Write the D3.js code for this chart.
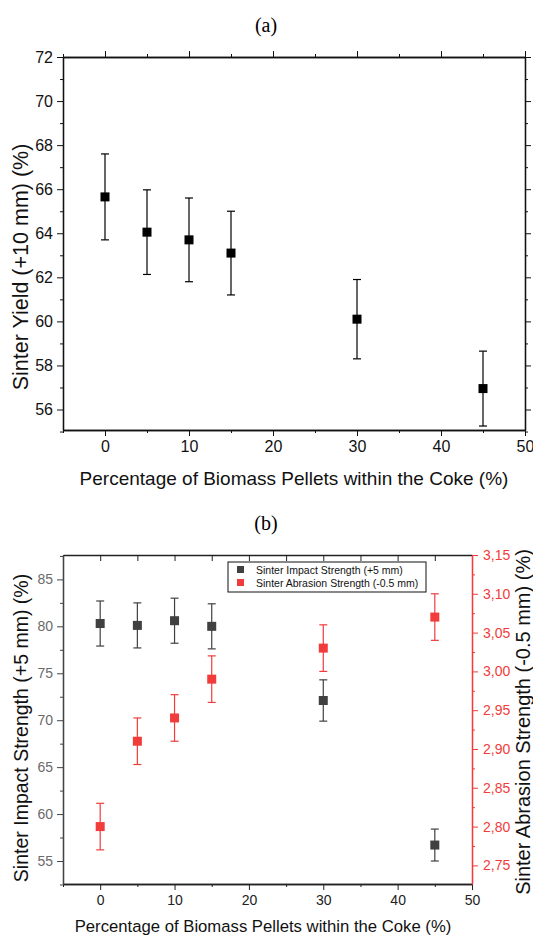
<!DOCTYPE html>
<html>
<head>
<meta charset="utf-8">
<script src="https://cdn.jsdelivr.net/npm/d3@7"></script>
<style>
  body { margin: 0; background: #fff; }
  svg { display: block; font-family: "Liberation Sans", Arial, sans-serif; }
  .domain { stroke-width: 1.3px; }
</style>
</head>
<body>
<div id="chart"></div>
<script>
// shared x values (% biomass pellets in coke)
var biomass = [0, 5, 10, 15, 30, 45];

// (a) sinter yield
var yieldVals = [65.65, 64.05, 63.7, 63.1, 60.1, 56.95];
var yieldErr  = [1.95, 1.92, 1.9, 1.9, 1.8, 1.7];

// (b) impact strength (+5 mm) and abrasion strength (-0.5 mm)
var impactVals = [80.3, 80.1, 80.6, 80.0, 72.1, 56.7];
var impactErr  = [2.4, 2.4, 2.4, 2.4, 2.2, 1.7];
var abrasionVals = [2.80, 2.91, 2.94, 2.99, 3.03, 3.07];
var abrasionErr  = [0.03, 0.03, 0.03, 0.03, 0.03, 0.03];

var xTicks = [0, 10, 20, 30, 40, 50];
var xMinor = [-5, 5, 15, 25, 35, 45];
var yieldTicks = [56, 58, 60, 62, 64, 66, 68, 70, 72];
var yieldMinor = [55, 57, 59, 61, 63, 65, 67, 69, 71];
var impactTicks = [55, 60, 65, 70, 75, 80, 85];
var impactMinor = [52.5, 57.5, 62.5, 67.5, 72.5, 77.5, 82.5, 87.5];
var abrasionTicks = [2.75, 2.80, 2.85, 2.90, 2.95, 3.00, 3.05, 3.10, 3.15];
var abrasionMinor = [2.775, 2.825, 2.875, 2.925, 2.975, 3.025, 3.075, 3.125];

var xLabel = "Percentage of Biomass Pellets within the Coke (%)";
var black = "#404040", red = "#f23c3c";

var svg = d3.select("#chart").append("svg").attr("width", 533).attr("height", 937);

function styleAxis(g, color, size, textColor) {
  g.selectAll(".domain").attr("stroke", color);
  g.selectAll(".tick line").attr("stroke", color);
  g.selectAll(".tick text").attr("fill", textColor || color).style("font-size", size + "px")
    .style("font-family", "Liberation Sans, Arial, sans-serif");
  return g;
}

function errorBars(g, xs, ys, errs, x, y, color) {
  var d = xs.map(function(v, i) { return {x: v, y: ys[i], e: errs[i]}; });
  var eb = g.append("g").selectAll("g").data(d).enter().append("g");
  eb.append("line")
    .attr("x1", function(d) { return x(d.x); }).attr("x2", function(d) { return x(d.x); })
    .attr("y1", function(d) { return y(d.y - d.e); }).attr("y2", function(d) { return y(d.y + d.e); })
    .attr("stroke", color).attr("stroke-width", 1.2);
  [-1, 1].forEach(function(s) {
    eb.append("line")
      .attr("x1", function(d) { return x(d.x) - 4; }).attr("x2", function(d) { return x(d.x) + 4; })
      .attr("y1", function(d) { return y(d.y + s * d.e); }).attr("y2", function(d) { return y(d.y + s * d.e); })
      .attr("stroke", color).attr("stroke-width", 1.2);
  });
  eb.append("rect")
    .attr("x", function(d) { return x(d.x) - 4.5; })
    .attr("y", function(d) { return y(d.y) - 4.5; })
    .attr("width", 9).attr("height", 9)
    .attr("fill", color);
}

// ---------- panel (a) ----------
var ax = d3.scaleLinear().domain([-5, 50]).range([63, 525]);
var ay = d3.scaleLinear().domain([55.07, 72]).range([430, 57]);
var pa = svg.append("g");

pa.append("text").attr("x", 266).attr("y", 32).attr("text-anchor", "middle")
  .style("font-family", "Liberation Serif, Times New Roman, serif").style("font-size", "20px")
  .text("(a)");

styleAxis(pa.append("g").attr("transform", "translate(0,430)")
  .call(d3.axisBottom(ax).tickValues(xTicks).tickSize(6).tickPadding(5).tickSizeOuter(0)), "#111", 16);
styleAxis(pa.append("g").attr("transform", "translate(0,430)")
  .call(d3.axisBottom(ax).tickValues(xMinor).tickSize(3).tickFormat("").tickSizeOuter(0)), "#111", 16);
styleAxis(pa.append("g").attr("transform", "translate(0,57)")
  .call(d3.axisTop(ax).tickValues(xTicks).tickSize(6).tickFormat("").tickSizeOuter(0)), "#111", 16);
styleAxis(pa.append("g").attr("transform", "translate(0,57)")
  .call(d3.axisTop(ax).tickValues(xMinor).tickSize(3).tickFormat("").tickSizeOuter(0)), "#111", 16);
styleAxis(pa.append("g").attr("transform", "translate(63,0)")
  .call(d3.axisLeft(ay).tickValues(yieldTicks).tickSize(6).tickPadding(4).tickSizeOuter(0)), "#111", 16);
styleAxis(pa.append("g").attr("transform", "translate(63,0)")
  .call(d3.axisLeft(ay).tickValues(yieldMinor).tickSize(3).tickFormat("").tickSizeOuter(0)), "#111", 16);
styleAxis(pa.append("g").attr("transform", "translate(525,0)")
  .call(d3.axisRight(ay).tickValues(yieldTicks).tickSize(6).tickFormat("").tickSizeOuter(0)), "#111", 16);
styleAxis(pa.append("g").attr("transform", "translate(525,0)")
  .call(d3.axisRight(ay).tickValues(yieldMinor).tickSize(3).tickFormat("").tickSizeOuter(0)), "#111", 16);

errorBars(pa, biomass, yieldVals, yieldErr, ax, ay, "#000");

pa.append("text").attr("x", 294).attr("y", 485).attr("text-anchor", "middle")
  .style("font-size", "19px").attr("fill", "#111").text(xLabel);
pa.append("text").attr("transform", "translate(28,267) rotate(-90)").attr("text-anchor", "middle")
  .style("font-size", "21.5px").attr("fill", "#111").text("Sinter Yield (+10 mm) (%)");

// ---------- panel (b) ----------
var bx = d3.scaleLinear().domain([-5, 50]).range([63, 472]);
var byL = d3.scaleLinear().domain([52.55, 87.6]).range([884, 555]);
var byR = d3.scaleLinear().domain([2.726, 3.15]).range([884, 555]);
var pb = svg.append("g");
var comma = function(v) { return d3.format(".2f")(v).replace(".", ","); };

pb.append("text").attr("x", 266).attr("y", 530).attr("text-anchor", "middle")
  .style("font-family", "Liberation Serif, Times New Roman, serif").style("font-size", "20px")
  .text("(b)");

styleAxis(pb.append("g").attr("transform", "translate(0,884)")
  .call(d3.axisBottom(bx).tickValues(xTicks).tickSize(6).tickPadding(5).tickSizeOuter(0)), "#222", 14);
styleAxis(pb.append("g").attr("transform", "translate(0,884)")
  .call(d3.axisBottom(bx).tickValues(xMinor).tickSize(3).tickFormat("").tickSizeOuter(0)), "#222", 14);
styleAxis(pb.append("g").attr("transform", "translate(0,555)")
  .call(d3.axisTop(bx).tickValues(xTicks.concat(xMinor)).tickSize(-6).tickFormat("").tickSizeOuter(0)), "#222", 14);
styleAxis(pb.append("g").attr("transform", "translate(63,0)")
  .call(d3.axisLeft(byL).tickValues(impactTicks).tickSize(6).tickPadding(4).tickSizeOuter(0)), "#444", 14, "#6a6a6a");
styleAxis(pb.append("g").attr("transform", "translate(63,0)")
  .call(d3.axisLeft(byL).tickValues(impactMinor).tickSize(3).tickFormat("").tickSizeOuter(0)), "#444", 14);
styleAxis(pb.append("g").attr("transform", "translate(472,0)")
  .call(d3.axisRight(byR).tickValues(abrasionTicks).tickSize(6).tickPadding(5).tickFormat(comma).tickSizeOuter(0)), red, 14);
styleAxis(pb.append("g").attr("transform", "translate(472,0)")
  .call(d3.axisRight(byR).tickValues(abrasionMinor).tickSize(3).tickFormat("").tickSizeOuter(0)), red, 14);

errorBars(pb, biomass, impactVals, impactErr, bx, byL, black);
errorBars(pb, biomass, abrasionVals, abrasionErr, bx, byR, red);

// legend
var lg = pb.append("g").attr("transform", "translate(228,562)");
lg.append("rect").attr("width", 198).attr("height", 30).attr("fill", "#fff")
  .attr("stroke", "#111").attr("stroke-width", 1);
[["Sinter Impact Strength (+5 mm)", black], ["Sinter Abrasion Strength (-0.5 mm)", red]].forEach(function(d, i) {
  lg.append("rect").attr("x", 9).attr("y", 4 + i * 13).attr("width", 7).attr("height", 7).attr("fill", d[1]);
  lg.append("text").attr("x", 28).attr("y", 11.5 + i * 13).style("font-size", "10.5px").attr("fill", "#111").text(d[0]);
});

pb.append("text").attr("x", 263).attr("y", 932).attr("text-anchor", "middle")
  .style("font-size", "16.7px").attr("fill", "#111").text(xLabel);
pb.append("text").attr("transform", "translate(28,728) rotate(-90)").attr("text-anchor", "middle")
  .style("font-size", "19.5px").attr("fill", "#111").text("Sinter Impact Strength (+5 mm) (%)");
pb.append("text").attr("transform", "translate(530,722) rotate(-90)").attr("text-anchor", "middle")
  .style("font-size", "20px").attr("fill", "#111").text("Sinter Abrasion Strength (-0.5 mm) (%)");
</script>
</body>
</html>
